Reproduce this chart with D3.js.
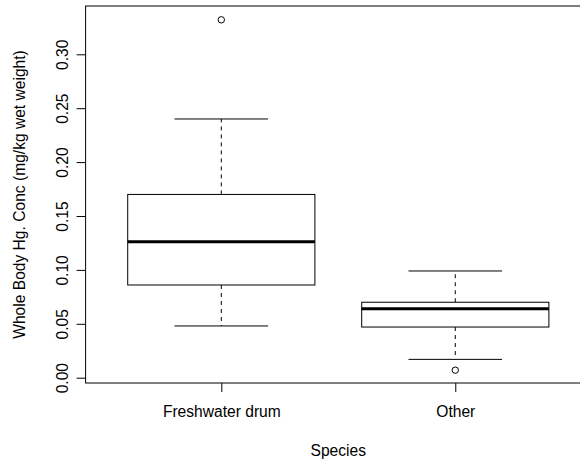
<!DOCTYPE html>
<html>
<head>
<meta charset="utf-8">
<script src="https://cdn.jsdelivr.net/npm/d3@7"></script>
<style>
  body { margin: 0; background: #fff; }
  svg { display: block; }
  text { font-family: "Liberation Sans", Arial, sans-serif; fill: #000; }
</style>
</head>
<body>
<div class="svg"></div>
<script>
// boxplot stats: [lower whisker, q1, median, q3, upper whisker]
var categories = ["Freshwater drum", "Other"];
var lowWhisker = [0.048, 0.017];
var q1 = [0.086, 0.047];
var median = [0.126, 0.064];
var q3 = [0.170, 0.070];
var highWhisker = [0.240, 0.099];
var outliers = [[0.332], [0.007]];
var yTicks = [0, 0.05, 0.10, 0.15, 0.20, 0.25, 0.30];

var W = 580, H = 462;
var fs = "15.6px";
var svg = d3.select("div.svg").append("svg")
  .attr("width", W)
  .attr("height", H);

// R style: xlim c(0.5, n+0.5) plus 4% on each side
var x = d3.scaleLinear().domain([0.42, 2.58]).range([85.6, 591]);
var y = d3.scaleLinear().domain([0, 0.30]).range([377.7, 54.3]);
var plotTop = 6, plotBottom = 383;

var boxW = 0.8 * (x(2) - x(1));
var capW = boxW / 2;

var groups = categories.map(function (c, i) {
  return {
    name: c, pos: i + 1,
    lo: lowWhisker[i], q1: q1[i], med: median[i], q3: q3[i], hi: highWhisker[i],
    out: outliers[i]
  };
});

var g = svg.selectAll("g.box")
  .data(groups)
  .enter()
  .append("g")
  .attr("class", "box");

// whiskers
g.append("line")
  .attr("x1", function (d) { return x(d.pos); })
  .attr("x2", function (d) { return x(d.pos); })
  .attr("y1", function (d) { return y(d.q3); })
  .attr("y2", function (d) { return y(d.hi); })
  .attr("stroke", "#000").attr("stroke-dasharray", "4,4");
g.append("line")
  .attr("x1", function (d) { return x(d.pos); })
  .attr("x2", function (d) { return x(d.pos); })
  .attr("y1", function (d) { return y(d.q1); })
  .attr("y2", function (d) { return y(d.lo); })
  .attr("stroke", "#000").attr("stroke-dasharray", "4,4");

// caps
["hi", "lo"].forEach(function (k) {
  g.append("line")
    .attr("x1", function (d) { return x(d.pos) - capW / 2; })
    .attr("x2", function (d) { return x(d.pos) + capW / 2; })
    .attr("y1", function (d) { return y(d[k]); })
    .attr("y2", function (d) { return y(d[k]); })
    .attr("stroke", "#000");
});

// boxes
g.append("rect")
  .attr("x", function (d) { return x(d.pos) - boxW / 2; })
  .attr("y", function (d) { return y(d.q3); })
  .attr("width", boxW)
  .attr("height", function (d) { return y(d.q1) - y(d.q3); })
  .attr("fill", "none")
  .attr("stroke", "#000");

// medians
g.append("line")
  .attr("x1", function (d) { return x(d.pos) - boxW / 2; })
  .attr("x2", function (d) { return x(d.pos) + boxW / 2; })
  .attr("y1", function (d) { return y(d.med); })
  .attr("y2", function (d) { return y(d.med); })
  .attr("stroke", "#000")
  .attr("stroke-width", 3);

// outliers
g.selectAll("circle")
  .data(function (d) { return d.out.map(function (v) { return { pos: d.pos, v: v }; }); })
  .enter()
  .append("circle")
  .attr("cx", function (d) { return x(d.pos); })
  .attr("cy", function (d) { return y(d.v); })
  .attr("r", 3.2)
  .attr("fill", "none")
  .attr("stroke", "#000");

// plot frame
svg.append("rect")
  .attr("x", x.range()[0])
  .attr("y", plotTop)
  .attr("width", x.range()[1] - x.range()[0])
  .attr("height", plotBottom - plotTop)
  .attr("fill", "none")
  .attr("stroke", "#000");

// y axis
var yAxis = svg.append("g")
  .attr("transform", "translate(" + x.range()[0] + ",0)")
  .call(d3.axisLeft(y).tickValues(yTicks).tickSize(9).tickFormat(d3.format(".2f")));
yAxis.select(".domain").remove();
yAxis.selectAll("line").attr("stroke", "#000");
yAxis.selectAll("text")
  .attr("font-size", fs)
  .attr("font-family", "Liberation Sans, Arial, sans-serif")
  .attr("x", null)
  .attr("text-anchor", "middle")
  .attr("transform", "translate(-23,0) rotate(-90)")
  .attr("dy", "0.35em");

// x axis
var xAxis = svg.append("g")
  .attr("transform", "translate(0," + plotBottom + ")")
  .call(d3.axisBottom(x).tickValues([1, 2]).tickSize(9)
    .tickFormat(function (d) { return categories[d - 1]; }));
xAxis.select(".domain").remove();
xAxis.selectAll("line").attr("stroke", "#000");
xAxis.selectAll("text")
  .attr("font-size", fs)
  .attr("font-family", "Liberation Sans, Arial, sans-serif")
  .attr("y", 29)
  .attr("dy", "0.35em");

// axis titles
svg.append("text")
  .attr("x", (x(1) + x(2)) / 2)
  .attr("y", 451)
  .attr("dy", "0.35em")
  .attr("text-anchor", "middle")
  .attr("font-size", fs)
  .text("Species");

svg.append("text")
  .attr("transform", "translate(20," + (plotTop + plotBottom) / 2 + ") rotate(-90)")
  .attr("dy", "0.35em")
  .attr("text-anchor", "middle")
  .attr("font-size", fs)
  .text("Whole Body Hg. Conc (mg/kg wet weight)");
</script>
</body>
</html>
